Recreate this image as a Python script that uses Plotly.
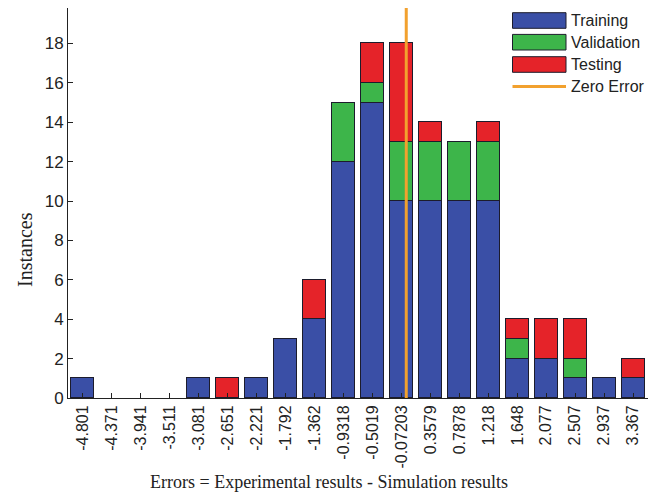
import plotly.graph_objects as go

# ---- data ----
bin_labels = ["-4.801", "-4.371", "-3.941", "-3.511", "-3.081", "-2.651", "-2.221",
              "-1.792", "-1.362", "-0.9318", "-0.5019", "-0.07203", "0.3579", "0.7878",
              "1.218", "1.648", "2.077", "2.507", "2.937", "3.367"]
bin_centers = [float(s) for s in bin_labels]
training   = [1, 0, 0, 0, 1, 0, 1, 3, 4, 12, 15, 10, 10, 10, 10, 2, 2, 1, 1, 1]
validation = [0, 0, 0, 0, 0, 0, 0, 0, 0, 3, 1, 3, 3, 3, 3, 1, 0, 1, 0, 0]
testing    = [0, 0, 0, 0, 0, 1, 0, 0, 2, 0, 2, 5, 1, 0, 1, 1, 2, 2, 0, 1]
zero_error = 0.0
y_ticks = [0, 2, 4, 6, 8, 10, 12, 14, 16, 18]

BLUE = "#3A4FA6"
GREEN = "#3DB54A"
RED = "#E52329"
ORANGE = "#F2A12E"
EDGE = "#1c1c2c"

W, H = 654, 498
L, R, T, B = 68, 6, 8, 100
pw, ph = W - L - R, H - T - B

def px(x):
    return (x - L) / pw

def py(y):
    return (H - B - y) / ph

binw = bin_centers[1] - bin_centers[0]
bw = binw * 0.8

fig = go.Figure()
for name, vals, col in [("Training", training, BLUE),
                        ("Validation", validation, GREEN),
                        ("Testing", testing, RED)]:
    fig.add_trace(go.Bar(x=bin_centers, y=[v if v else None for v in vals], name=name, width=bw,
                         marker=dict(color=col, line=dict(color=EDGE, width=1)),
                         showlegend=False))

fig.add_trace(go.Scatter(x=[zero_error, zero_error], y=[0, 19.8], mode="lines",
                         line=dict(color=ORANGE, width=3), name="Zero Error",
                         showlegend=False))

# custom legend (MATLAB-style wide patches)
shapes = []
annotations = []
LEG_FONT = dict(family="Liberation Sans, Arial", size=16, color="#222")
legend_items = [("Training", BLUE, 20.5), ("Validation", GREEN, 42.2), ("Testing", RED, 64.5)]
for name, col, yc in legend_items:
    shapes.append(dict(type="rect", xref="paper", yref="paper",
                       x0=px(512.5), x1=px(566), y0=py(yc + 7.8), y1=py(yc - 7.8),
                       fillcolor=col, line=dict(color=EDGE, width=1)))
    annotations.append(dict(text=name, xref="paper", yref="paper", x=px(569), y=py(yc),
                            xanchor="left", yanchor="middle", showarrow=False, font=LEG_FONT))
shapes.append(dict(type="line", xref="paper", yref="paper", x0=px(512.5), x1=px(566),
                   y0=py(86.5), y1=py(86.5), line=dict(color=ORANGE, width=3)))
annotations.append(dict(text="Zero Error", xref="paper", yref="paper", x=px(569), y=py(86.5),
                        xanchor="left", yanchor="middle", showarrow=False, font=LEG_FONT))

# axis titles
annotations.append(dict(text="Errors = Experimental results - Simulation results",
                        xref="paper", yref="paper", x=px(329), y=py(482),
                        xanchor="center", yanchor="middle", showarrow=False,
                        font=dict(family="Liberation Serif, Times New Roman", size=18, color="#222")))
annotations.append(dict(text="Instances", xref="paper", yref="paper", x=px(25), y=py(250),
                        xanchor="center", yanchor="middle", showarrow=False, textangle=-90,
                        font=dict(family="Liberation Serif, Times New Roman", size=20, color="#222")))

fig.update_layout(
    width=W, height=H,
    margin=dict(l=L, r=R, t=T, b=B),
    paper_bgcolor="white", plot_bgcolor="white",
    barmode="stack", bargap=0,
    showlegend=False,
    shapes=shapes, annotations=annotations,
    font=dict(family="Liberation Sans, Arial", color="#222"),
)
fig.update_xaxes(range=[bin_centers[0] - binw / 2 - 0.003, bin_centers[-1] + binw / 2 + 0.005],
                 tickmode="array", tickvals=bin_centers, ticktext=bin_labels,
                 tickangle=-90, ticks="inside", ticklen=5, tickcolor="#222",
                 showline=True, linecolor="#222", linewidth=1, showgrid=False, zeroline=False,
                 tickfont=dict(size=16, color="#222"))
fig.update_yaxes(range=[0, 19.8], tickmode="array", tickvals=y_ticks,
                 ticks="inside", ticklen=5, tickcolor="#222",
                 showline=True, linecolor="#222", linewidth=1, showgrid=False, zeroline=False,
                 tickfont=dict(size=17, color="#222"))

fig.write_html("out.html")
